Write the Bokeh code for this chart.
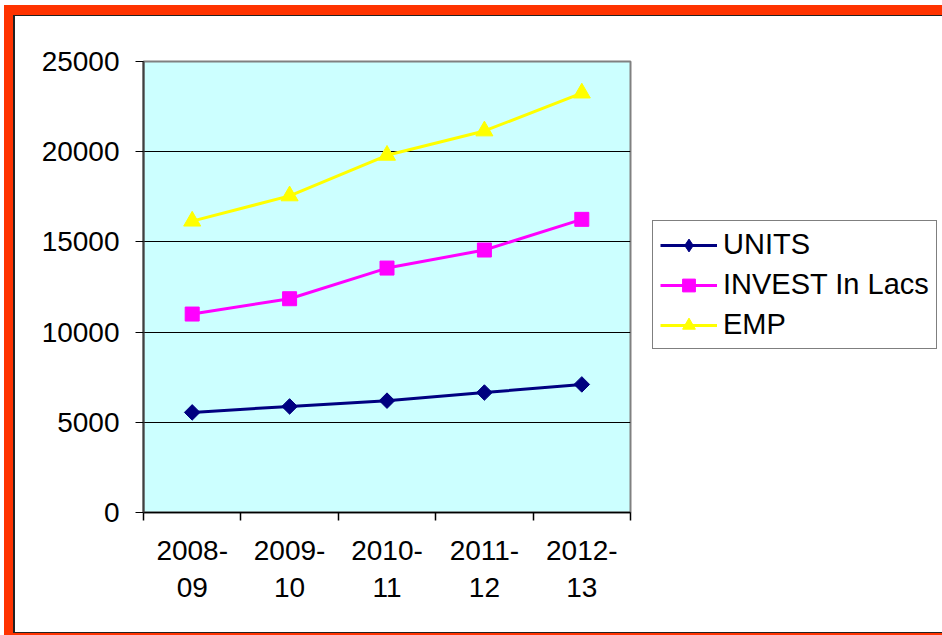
import math
from bokeh.plotting import figure
from bokeh.layouts import row
from bokeh.models import (Range1d, FixedTicker, Legend, LegendItem,
                          BasicTickFormatter)
from bokeh.embed import file_html
from bokeh.resources import INLINE

# ---- data ----
periods = ["2008-\n09", "2009-\n10", "2010-\n11", "2011-\n12", "2012-\n13"]
series_names = ["UNITS", "INVEST In Lacs", "EMP"]
units = [5550, 5880, 6200, 6650, 7100]
invest = [11000, 11850, 13550, 14550, 16250]
emp = [16150, 17550, 19800, 21150, 23250]
y_ticks = [0, 5000, 10000, 15000, 20000, 25000]

FONT = "Liberation Sans"
W, H = 942, 635
W_CHART = 640

xs = [i + 0.5 for i in range(len(periods))]

# red frame around the slide, drawn as CSS backgrounds behind transparent canvases
red = "linear-gradient(#FF3300,#FF3300)"
dark = "linear-gradient(#222222,#222222)"
frame_styles = {
    "background-color": "white",
    "background-image": ", ".join([red, red, red, dark, dark, dark]),
    "background-position": "4px 5px, 4px 5px, 4px 633px, 13px 15px, 13px 15px, 13px 632px",
    "background-size": "938px 10px, 9px 630px, 938px 2px, 929px 1px, 2px 618px, 929px 1px",
    "background-repeat": "no-repeat",
}

styles_list = [
    dict(color="#000080", marker="square", angle=math.pi / 4, size=11,
         legend_marker="diamond", legend_size=18),
    dict(color="#FF00FF", marker="square", angle=0.0, size=14,
         legend_marker="square", legend_size=14),
    dict(color="#FFFF00", marker="triangle", angle=0.0, size=17,
         legend_marker="triangle", legend_size=17),
]
values = [units, invest, emp]

# ---------------- chart ----------------
p = figure(width=W_CHART, height=H, output_backend="svg", toolbar_location=None,
           x_range=Range1d(0, len(periods)), y_range=Range1d(0, 25000),
           min_border_left=143, min_border_right=W_CHART - 630,
           min_border_top=61, min_border_bottom=123)
p.background_fill_color = "#CCFFFF"
p.border_fill_color = None
p.outline_line_color = "#808080"
p.outline_line_width = 2

for vals, st in zip(values, styles_list):
    p.line(xs, vals, line_color=st["color"], line_width=3)
    p.scatter(xs, vals, marker=st["marker"], angle=st["angle"], size=st["size"],
              fill_color=st["color"], line_color=st["color"])

p.xgrid.visible = False
p.ygrid.ticker = FixedTicker(ticks=y_ticks)
p.ygrid.grid_line_color = "black"
p.ygrid.grid_line_width = 1

yax = p.yaxis[0]
yax.ticker = FixedTicker(ticks=y_ticks, minor_ticks=[])
yax.formatter = BasicTickFormatter(use_scientific=False)
yax.major_tick_out = 8
yax.major_tick_in = 0
yax.major_tick_line_color = "black"
yax.minor_tick_line_color = None
yax.axis_line_color = "#404040"
yax.axis_line_width = 2
yax.major_label_standoff = 16
yax.major_label_text_font = FONT
yax.major_label_text_font_size = "28px"
yax.major_label_text_color = "black"

xax = p.xaxis[0]
xax.ticker = FixedTicker(ticks=xs, minor_ticks=list(range(len(periods) + 1)))
xax.major_label_overrides = {x: lab for x, lab in zip(xs, periods)}
xax.major_tick_line_color = None
xax.major_tick_out = 0
xax.major_tick_in = 0
xax.minor_tick_out = 8
xax.minor_tick_in = 0
xax.minor_tick_line_color = "black"
xax.minor_tick_line_width = 1.5
xax.axis_line_color = "black"
xax.axis_line_width = 1.5
xax.major_label_standoff = 14
xax.major_label_text_font = FONT
xax.major_label_text_font_size = "28px"
xax.major_label_text_color = "black"
xax.major_label_text_line_height = 1.2

# ---------------- legend panel ----------------
q = figure(width=W - W_CHART, height=H, output_backend="svg", toolbar_location=None,
           x_range=Range1d(0, 1), y_range=Range1d(0, 1),
           x_axis_location=None, y_axis_location=None, min_border=0)
q.background_fill_color = None
q.border_fill_color = None
q.outline_line_color = None
q.grid.visible = False

items = []
for name, st in zip(series_names, styles_list):
    # legend swatches only (placed off-range, nothing visible in the panel)
    lr = q.line([-5, -4], [-5, -4], line_color=st["color"], line_width=3)
    mr = q.scatter([-5], [-5], marker=st["legend_marker"], size=st["legend_size"],
                   fill_color=st["color"], line_color=st["color"])
    items.append(LegendItem(label=name, renderers=[lr, mr]))

legend = Legend(items=items, location=(652 - W_CHART, 163))
legend.label_text_font = FONT
legend.label_text_font_size = "29px"
legend.label_text_color = "black"
legend.glyph_width = 57
legend.glyph_height = 32
legend.label_height = 32
legend.label_standoff = 6
legend.padding = 7
legend.spacing = 7
legend.margin = 0
legend.border_line_color = "black"
legend.border_line_width = 1
legend.background_fill_color = "white"
legend.background_fill_alpha = 1
q.add_layout(legend, "center")

layout = row(p, q, styles=frame_styles)
open("out.html", "w").write(file_html(layout, INLINE))
